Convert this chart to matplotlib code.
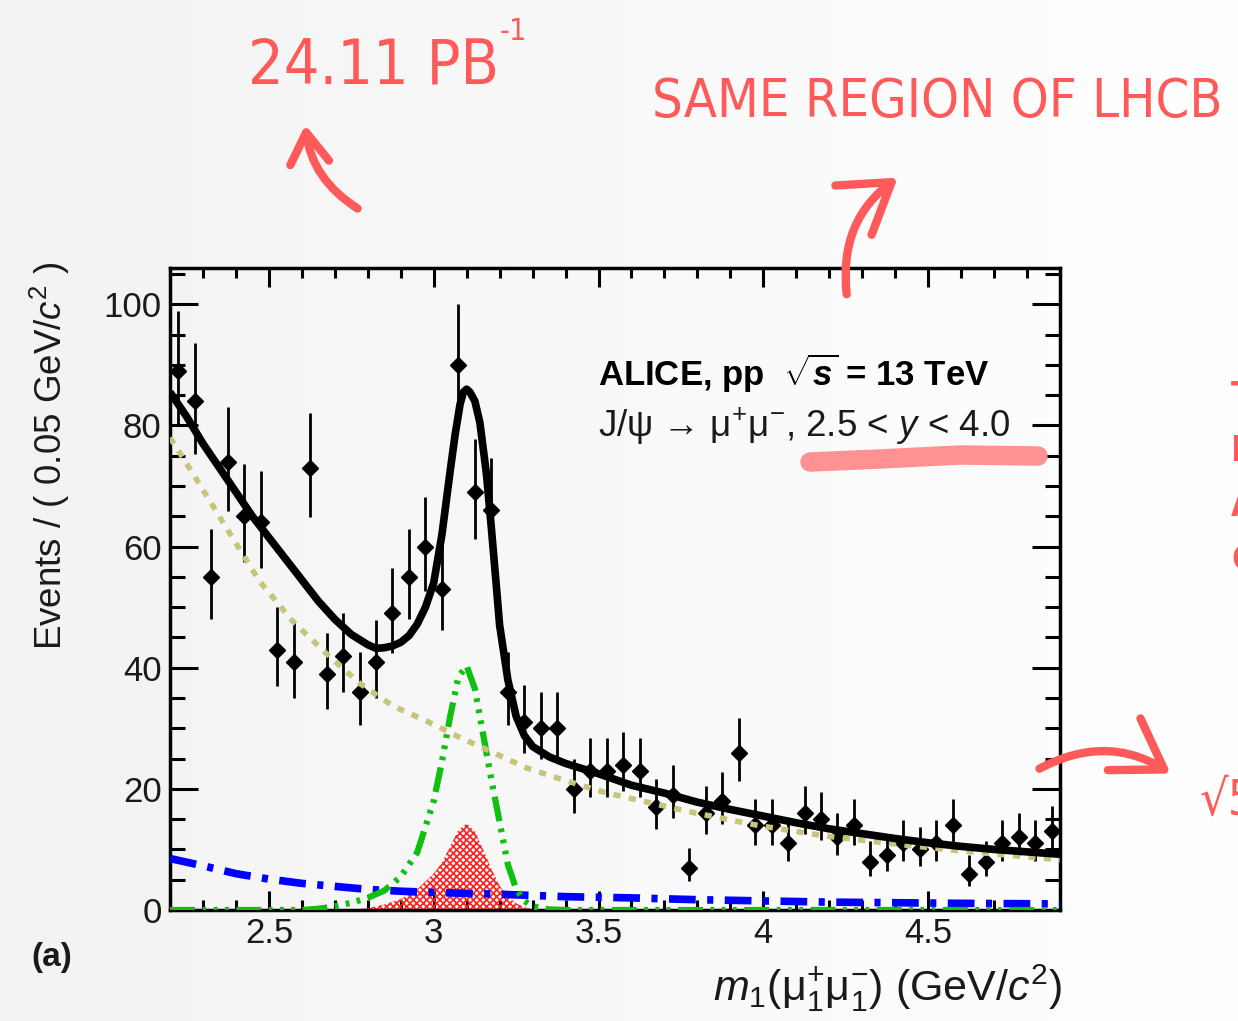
import matplotlib
matplotlib.use("Agg")
import matplotlib.pyplot as plt
import numpy as np
from matplotlib.patches import FancyArrowPatch
from matplotlib.ticker import MultipleLocator, FuncFormatter

plt.rcParams['font.family'] = ['Liberation Sans', 'DejaVu Sans']
plt.rcParams['mathtext.fontset'] = 'custom'
plt.rcParams['mathtext.rm'] = 'Liberation Sans'
plt.rcParams['mathtext.it'] = 'Liberation Sans:italic'
plt.rcParams['mathtext.bf'] = 'Liberation Sans:bold'
plt.rcParams['mathtext.bfit'] = 'Liberation Sans:italic:bold'
plt.rcParams['hatch.linewidth'] = 1.2

# dimuon mass bins (GeV/c^2), bin width 0.05
mass = np.arange(2.225, 4.9, 0.05)
counts = [89, 84, 55, 74, 65, 64, 43, 41, 73, 39, 42, 36, 41, 49, 55, 60, 53, 90,
          69, 66, 36, 31, 30, 30, 20, 23, 23, 24, 23, 17, 19, 7, 16, 18, 26, 14,
          14, 11, 16, 15, 12, 14, 8, 9, 11, 10, 11, 14, 6, 8, 11, 12, 11, 13]

# total fit (black solid)
tot_x = [2.2, 2.25, 2.3, 2.35, 2.4, 2.45, 2.5, 2.55, 2.6, 2.65, 2.7, 2.75, 2.8, 2.825,
         2.85, 2.875, 2.9, 2.925, 2.95, 2.975, 3.0, 3.025, 3.05, 3.065, 3.08, 3.09,
         3.1, 3.11, 3.125, 3.14, 3.16, 3.175, 3.19, 3.2, 3.225, 3.25, 3.275, 3.3,
         3.35, 3.4, 3.5, 3.6, 3.7, 3.8, 3.9, 4.0, 4.1, 4.2, 4.3, 4.4, 4.5, 4.6, 4.7,
         4.8, 4.9]
tot_y = [85.5, 81.5, 77, 73, 69, 65, 61.5, 58, 54.5, 51, 48, 45.5, 43.8, 43.2,
         43.3, 43.6, 44.2, 45.3, 47.2, 50, 54, 62, 72.5, 78.5, 83.5, 85.5,
         86, 85.5, 84, 80.5, 72, 63, 53.5, 47, 38, 32, 28.8, 27,
         25.3, 24.2, 22.5, 20.6, 19.3, 17.8, 16.6, 15.5, 14.4, 13.4, 12.6, 11.8, 11.1,
         10.5, 10.0, 9.6, 9.2]

# combinatorial background (olive dotted)
bkg_x = [2.2, 2.27, 2.37, 2.47, 2.57, 2.675, 2.776, 2.876, 2.978, 3.079, 3.18, 3.28,
         3.38, 3.52, 3.584, 3.786, 3.99, 4.19, 4.4, 4.6, 4.9]
bkg_y = [78, 72, 63.2, 54.4, 47.8, 42.3, 37.4, 33.7, 31.2, 28.5, 26, 23.5,
         21.7, 19.4, 18.6, 16.1, 13.9, 12.2, 10.9, 9.75, 8.3]

# second background (blue dash-dot)
bl_x = [2.2, 2.3, 2.4, 2.5, 2.6, 2.7, 2.8, 2.9, 3.0, 3.2, 3.4, 3.6, 3.8, 4.0, 4.2,
        4.4, 4.6, 4.9]
bl_y = [8.5, 7.3, 6.0, 5.1, 4.4, 3.9, 3.4, 3.1, 2.9, 2.6, 2.2, 2.0, 1.7, 1.5, 1.3,
        1.2, 1.1, 1.0]

# J/psi signal (green)
gr_x = [2.2, 2.6, 2.65, 2.7, 2.75, 2.8, 2.85, 2.9, 2.95, 3.0, 3.025, 3.05, 3.075,
        3.1, 3.125, 3.15, 3.175, 3.2, 3.225, 3.25, 3.275, 3.3, 3.35, 3.4, 4.9]
gr_y = [0, 0, 0.2, 0.6, 1.2, 2.0, 3.2, 5.5, 9.5, 18, 24.5, 32, 38.5,
        40.3, 36.5, 29, 21.5, 14.5, 7.5, 3.5, 1.5, 0.6, 0.1, 0, 0]

# second signal component (red hatched)
rd_x = [2.75, 2.8, 2.85, 2.9, 2.95, 3.0, 3.025, 3.05, 3.075, 3.1, 3.125, 3.15,
        3.175, 3.2, 3.225, 3.25, 3.275, 3.3, 3.32]
rd_y = [0, 0.3, 0.9, 1.8, 3.4, 6.0, 7.8, 10.5, 13.2, 14.3, 13.0, 10.0,
        6.8, 4.0, 2.2, 1.1, 0.5, 0.1, 0]

W, H = 1238, 1021
fig = plt.figure(figsize=(W / 100, H / 100), dpi=100)
fig.patch.set_facecolor('#f8f8f8')

# light screenshot-like background gradient
bg = fig.add_axes([0, 0, 1, 1], zorder=-10)
bg.imshow(np.linspace(0.95, 0.995, 256)[None, :], cmap='gray', vmin=0, vmax=1,
          aspect='auto', extent=[0, 1, 0, 1])
bg.axis('off')

ax = fig.add_axes([170 / W, 1 - 910 / H, 890 / W, 642 / H])
ax.set_facecolor('none')

counts = np.array(counts, dtype=float)
err_lo = np.sqrt(counts + 0.25) - 0.5
err_hi = np.sqrt(counts + 0.25) + 0.5
ax.errorbar(mass, counts, yerr=[err_lo, err_hi], fmt='D', color='black', ms=8,
            elinewidth=2, capsize=0, zorder=3)

ax.fill_between(rd_x, 0, rd_y, facecolor='none', edgecolor='#ff2020', hatch='xxxxx',
                linewidth=0, zorder=2)
ax.plot(bl_x, bl_y, color='#0000ff', lw=5.5, ls=(0, (3.5, 1.5, 0.8, 1.5)), zorder=4)
ax.plot(gr_x, gr_y, color='#10c010', lw=4.5,
        ls=(0, (4, 1.2, 0.6, 1.2, 0.6, 1.2, 0.6, 1.2)), zorder=4)
ax.plot(bkg_x, bkg_y, color='#c8c47c', lw=4, ls=(0, (1.3, 1.5)), zorder=4)
ax.plot(tot_x, tot_y, color='black', lw=5.5, zorder=5, solid_capstyle='butt',
        solid_joinstyle='round')

ax.set_xlim(2.2, 4.9)
ax.set_ylim(0, 106)
ax.xaxis.set_major_locator(MultipleLocator(0.5))
ax.xaxis.set_minor_locator(MultipleLocator(0.1))
ax.yaxis.set_major_locator(MultipleLocator(20))
ax.yaxis.set_minor_locator(MultipleLocator(5))
ax.xaxis.set_major_formatter(FuncFormatter(lambda v, p: '%g' % v))
ax.tick_params(axis='both', which='both', direction='in', top=True, right=True,
               width=2.2, labelsize=25, labelcolor='#1a1a1a')
ax.tick_params(axis='y', which='major', length=20, pad=6)
ax.tick_params(axis='y', which='minor', length=11)
ax.tick_params(axis='x', which='major', length=14, pad=5)
ax.tick_params(axis='x', which='minor', length=7)
for s in ax.spines.values():
    s.set_linewidth(2.5)

ax.text(0.481, 0.836, r'ALICE, pp  $\sqrt{\mathbfit{s}}$ = 13 TeV', transform=ax.transAxes,
        fontsize=25, fontweight='bold', va='center', ha='left')
ax.text(0.481, 0.753, r'J/ψ → μ$^{+}$μ$^{-}$, 2.5 < $y$ < 4.0',
        transform=ax.transAxes, fontsize=26.5, va='center', ha='left', color='#1a1a1a')

fig.text(50 / W, 1 - 262 / H, r'Events / ( 0.05 GeV/$c^{2}$ )', rotation=90,
         ha='center', va='top', fontsize=26.5, color='#1a1a1a')
fig.text(1062 / W, 1 - 988 / H, r'$m_{1}(\mathrm{μ}^{+}_{1}\mathrm{μ}^{-}_{1})$ (GeV/$c^{2}$)',
         ha='right', va='center', fontsize=31, color='#1a1a1a')
fig.text(52 / W, 1 - 957 / H, '(a)', ha='center', va='center', fontsize=24,
         fontweight='bold', color='#1a1a1a')

# handwritten notes overlay, pixel coordinates
ov = fig.add_axes([0, 0, 1, 1], zorder=10)
ov.set_xlim(0, W)
ov.set_ylim(H, 0)
ov.axis('off')
red = '#ff5a5a'
hand = dict(family='DejaVu Sans', fontstretch='condensed', color=red)

ov.text(248, 83, '24.11 PB', fontsize=45, ha='left', va='baseline', **hand)
ov.text(500, 40, '-1', fontsize=22, ha='left', va='baseline', **hand)
ov.text(652, 117, 'SAME REGION OF LHCB', fontsize=38.8, ha='left', va='baseline', **hand)
ov.text(1231, 380, 'T\nI\nA\nC', fontsize=26, ha='left', va='top', linespacing=1.75,
        fontweight='bold', **hand)
ov.text(1200, 815, '√5', fontsize=36, ha='left', va='baseline', **hand)

# underline
ov.plot([810, 880, 960, 1038], [462, 459, 455, 456], color='#ff8c8c', lw=14,
        solid_capstyle='round', alpha=0.95)

arrows = [((360, 210), (305, 122), -0.25, 1.1, 0.7),
          ((847, 297), (900, 176), -0.3, 1.7, 1.1),
          ((1037, 770), (1173, 775), -0.3, 1.7, 1.1)]
for tail, tip, rad, hl, hw in arrows:
    ov.add_patch(FancyArrowPatch(tail, tip, connectionstyle='arc3,rad=%g' % rad,
                                 arrowstyle='->,head_length=%g,head_width=%g' % (hl, hw),
                                 color=red, lw=6, capstyle='round',
                                 joinstyle='round', mutation_scale=20))

fig.savefig('out.png', dpi=100, facecolor=fig.get_facecolor())
